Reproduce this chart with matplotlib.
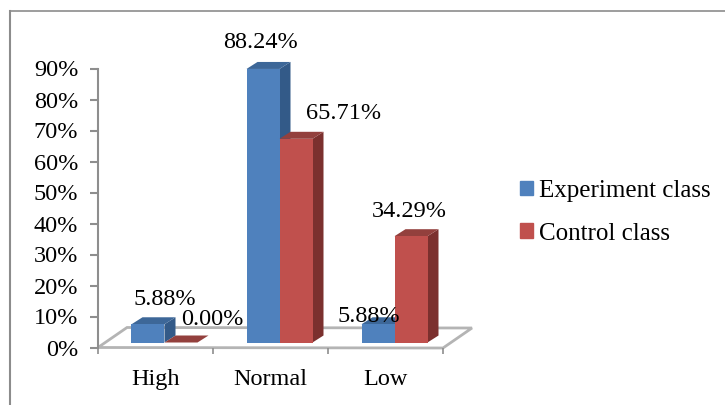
"""3d looking bar chart, experiment vs control class"""
import matplotlib
matplotlib.use("Agg")
import matplotlib.pyplot as plt
from matplotlib.lines import Line2D
from matplotlib.patches import Patch
from matplotlib.transforms import Affine2D, IdentityTransform

plt.rcParams['font.family'] = ['Liberation Serif', 'DejaVu Serif']

categories = ['High', 'Normal', 'Low']
experiment = [5.88, 88.24, 5.88]
control = [0.00, 65.71, 34.29]
y_ticks = [0, 10, 20, 30, 40, 50, 60, 70, 80, 90]
y_labels = ['0%', '10%', '20%', '30%', '40%', '50%', '60%', '70%', '80%', '90%']

W, H = 725, 405
FS = 17.5
# pixel offsets of the fake 3d look
BAR_W = 33 / 115
DEPTH = (11, 7)
FRONT = (9, 5)
FLOOR = (29, 20)

fig = plt.figure(figsize=(W / 100, H / 100), dpi=100)
# axes box: x 98..443, 0% at y=347, 90% at y=68 (image pixels)
ax = fig.add_axes([98 / W, 1 - 347.5 / H, 345 / W, 279 / H])
ax.set_xlim(0, 3)
ax.set_ylim(0, 90)
ax.patch.set_visible(False)
for s in ['top', 'right', 'bottom']:
    ax.spines[s].set_visible(False)
ax.spines['left'].set_color('#8e8e8e')
ax.spines['left'].set_linewidth(1.5)


def poly(points, **kw):
    # polygon given in display pixels
    p = plt.Polygon(points, closed=True, transform=IdentityTransform(), clip_on=False, **kw)
    ax.add_patch(p)


# floor
o = ax.transData.transform((0, 0))
e = ax.transData.transform((3, 0)) + (0, -0.5)
poly([o, e, e + FLOOR, o + FLOOR], fc='white', ec='#b4b4b4', lw=2, zorder=1)

shift = ax.transData + Affine2D().translate(*FRONT)


def bar3d(x, values, front, side, top, z):
    ax.bar(x, values, BAR_W, color=front, transform=shift, zorder=z + 0.2, clip_on=False)
    for xi, v in zip(x, values):
        a = shift.transform((xi - BAR_W / 2, v))
        b = shift.transform((xi + BAR_W / 2, v))
        c = shift.transform((xi + BAR_W / 2, 0))
        poly([b, b + DEPTH, c + DEPTH, c], fc=side, ec='none', zorder=z)
        poly([a, b, b + DEPTH, a + DEPTH], fc=top, ec='none', zorder=z + 0.1)


pos = [i + 0.5 for i in range(len(categories))]
exp_x = [p - BAR_W / 2 for p in pos]
con_x = [p + BAR_W / 2 for p in pos]
# blue first, red stands in front of the blue side faces
bar3d(exp_x, experiment, '#4f81bd', '#335a88', '#3d6798', 2)
bar3d(con_x, control, '#c0504d', '#7b302e', '#93403d', 3)

ax.set_yticks(y_ticks)
ax.set_yticklabels(y_labels, fontsize=FS)
ax.set_xticks(range(len(categories) + 1))
ax.set_xticklabels([])
ax.tick_params(axis='y', length=5.8, width=1.5, color='#8e8e8e', pad=8.5)
ax.tick_params(axis='x', length=4.3, width=1.2, color='#8e8e8e')
ax.set_xticks(pos, minor=True)
ax.set_xticklabels(categories, minor=True, fontsize=FS)
ax.tick_params(axis='x', which='minor', length=0, pad=15.5)

# value labels, offsets in points from the bar value
exp_off = [(7, 21.6), (-7, 22.7), (-12, 9.5)]
con_off = [(17, 20), (29, 21.5), (-6.4, 21.6)]
for xi, v, off in zip(pos, experiment, exp_off):
    ax.annotate(f'{v:.2f}%', (xi, v), xytext=off, textcoords='offset points',
                ha='center', va='center', fontsize=FS, zorder=5, annotation_clip=False)
for xi, v, off in zip(pos, control, con_off):
    ax.annotate(f'{v:.2f}%', (xi + BAR_W, v), xytext=off, textcoords='offset points',
                ha='center', va='center', fontsize=FS, zorder=5, annotation_clip=False)

handles = [Patch(color='#4f81bd', label='Experiment class'), Patch(color='#c0504d', label='Control class')]
fig.legend(handles=handles, loc='upper left', bbox_to_anchor=(520 / W, 1 - 180 / H), frameon=False,
           fontsize=18, handlelength=0.52, handleheight=0.52, handletextpad=0.25, labelspacing=0.82,
           borderaxespad=0, borderpad=0)

# outer frame, only the top and left edges show
fig.add_artist(Line2D([10 / W, 10 / W], [0, 1 - 10.5 / H], color='#8c8c8c', lw=1.5))
fig.add_artist(Line2D([10 / W, 1], [1 - 10.5 / H, 1 - 10.5 / H], color='#8c8c8c', lw=1.2))

fig.savefig('out.png', dpi=100)
